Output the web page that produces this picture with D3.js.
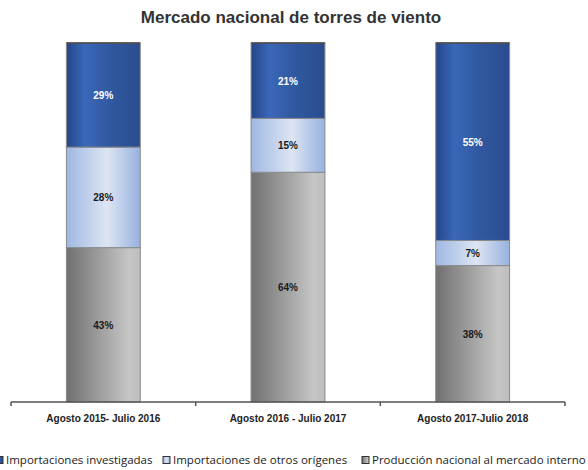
<!DOCTYPE html>
<html>
<head>
<meta charset="utf-8">
<script src="https://cdn.jsdelivr.net/npm/d3@7"></script>
<style>
  body { margin: 0; background: #fff; }
</style>
</head>
<body>
<svg id="chart" width="588" height="470"></svg>
<script>
// data
const periods = ["Agosto 2015- Julio 2016", "Agosto 2016 - Julio 2017", "Agosto 2017-Julio 2018"]
const seriesNames = ["Importaciones investigadas", "Importaciones de otros orígenes", "Producción nacional al mercado interno"]
const investigadas = [29, 21, 55]
const otrosOrigenes = [28, 15, 7]
const produccion = [43, 64, 38]

const width = 588
const height = 470
const margin = { top: 43, right: 23, bottom: 68, left: 11 }

const svg = d3.select("#chart")

// gradients for the bar fills
const defs = svg.append("defs")
function addGradient(id, stops) {
  const g = defs.append("linearGradient")
    .attr("id", id)
    .attr("x1", "0%").attr("x2", "100%")
    .attr("y1", "0%").attr("y2", "0%")
  stops.forEach(s => g.append("stop").attr("offset", s[0]).attr("stop-color", s[1]))
}
addGradient("g-dark", [["0%", "#24468a"], ["25%", "#3a67b8"], ["60%", "#30589f"], ["100%", "#2a4c8e"]])
addGradient("g-light", [["0%", "#9fb8e2"], ["55%", "#dde5f3"], ["100%", "#97b1df"]])
addGradient("g-gray", [["0%", "#707070"], ["85%", "#c6c6c6"], ["100%", "#bdbdbd"]])

// stack order: production at bottom, then other origins, then investigated
const rows = periods.map((p, i) => ({
  period: p,
  produccion: produccion[i],
  otros: otrosOrigenes[i],
  investigadas: investigadas[i]
}))
const keys = ["produccion", "otros", "investigadas"]
const keyFill = { produccion: "url(#g-gray)", otros: "url(#g-light)", investigadas: "url(#g-dark)" }
const keyText = { produccion: "#1a1a1a", otros: "#1a1a1a", investigadas: "#ffffff" }

const x = d3.scaleBand()
  .domain(periods)
  .range([margin.left, width - margin.right])
  .paddingInner(0.6)
  .paddingOuter(0.3)

const y = d3.scaleLinear()
  .domain([0, 100])
  .range([height - margin.bottom, margin.top])

const stacked = d3.stack().keys(keys)(rows)

// title
svg.append("text")
  .attr("x", 291)
  .attr("y", 23)
  .attr("text-anchor", "middle")
  .style("font-family", "Liberation Sans, Arial, sans-serif")
  .style("font-weight", "bold")
  .style("font-size", "17px")
  .style("fill", "#333")
  .text("Mercado nacional de torres de viento")

const layers = svg.append("g").selectAll("g")
  .data(stacked)
  .join("g")

layers.selectAll("rect")
  .data(d => d.map(v => Object.assign(v, { key: d.key })))
  .join("rect")
  .attr("x", d => x(d.data.period))
  .attr("width", x.bandwidth())
  .attr("y", d => y(d[1]))
  .attr("height", d => y(d[0]) - y(d[1]))
  .attr("fill", d => keyFill[d.key])
  .attr("stroke", "#8a8a8a")
  .attr("stroke-width", 1)

// dark edge on top of the bars
svg.append("g").selectAll("line")
  .data(periods)
  .join("line")
  .attr("x1", d => x(d))
  .attr("x2", d => x(d) + x.bandwidth())
  .attr("y1", y(100))
  .attr("y2", y(100))
  .attr("stroke", "#444")
  .attr("stroke-width", 1.5)

// segment labels
layers.selectAll("text")
  .data(d => d)
  .join("text")
  .attr("x", d => x(d.data.period) + x.bandwidth() / 2)
  .attr("y", d => (y(d[0]) + y(d[1])) / 2 + 4)
  .attr("text-anchor", "middle")
  .style("font-family", "Liberation Sans, Arial, sans-serif")
  .style("font-weight", "bold")
  .style("font-size", "10px")
  .style("fill", d => keyText[d.key])
  .text(d => (d[1] - d[0]) + "%")

// x axis with ticks between categories
const axisY = height - margin.bottom
const axis = svg.append("g").attr("transform", "translate(0," + axisY + ")")
axis.append("line")
  .attr("x1", margin.left)
  .attr("x2", width - margin.right)
  .attr("stroke", "#555")
  .attr("stroke-width", 1.5)
const step = x.step()
const tickXs = d3.range(periods.length + 1).map(i => margin.left + i * step)
axis.selectAll(".tick")
  .data(tickXs)
  .join("line")
  .attr("class", "tick")
  .attr("x1", d => d).attr("x2", d => d)
  .attr("y1", 0).attr("y2", 4)
  .attr("stroke", "#555")
  .attr("stroke-width", 1.5)
axis.selectAll(".label")
  .data(periods)
  .join("text")
  .attr("class", "label")
  .attr("x", d => x(d) + x.bandwidth() / 2)
  .attr("y", 20)
  .attr("text-anchor", "middle")
  .style("font-family", "Liberation Sans Narrow, Arial Narrow, sans-serif")
  .style("font-weight", "bold")
  .style("font-size", "10px")
  .style("fill", "#222")
  .text(d => d)

// legend
const legendX = [-4, 163, 362]
const legendFill = ["url(#g-dark)", "url(#g-light)", "url(#g-gray)"]
const legend = svg.append("g").attr("transform", "translate(0,464)")
const items = legend.selectAll("g")
  .data(seriesNames)
  .join("g")
  .attr("transform", (d, i) => "translate(" + legendX[i] + ",0)")
items.append("rect")
  .attr("x", 0).attr("y", -7.5)
  .attr("width", 7).attr("height", 7)
  .attr("fill", (d, i) => legendFill[i])
  .attr("stroke", "#333")
  .attr("stroke-width", 1)
items.append("text")
  .attr("x", 10)
  .attr("y", 0)
  .style("font-family", "Open Sans, Liberation Sans, sans-serif")
  .style("font-size", "11.5px")
  .style("fill", "#222")
  .text(d => d)
</script>
</body>
</html>
